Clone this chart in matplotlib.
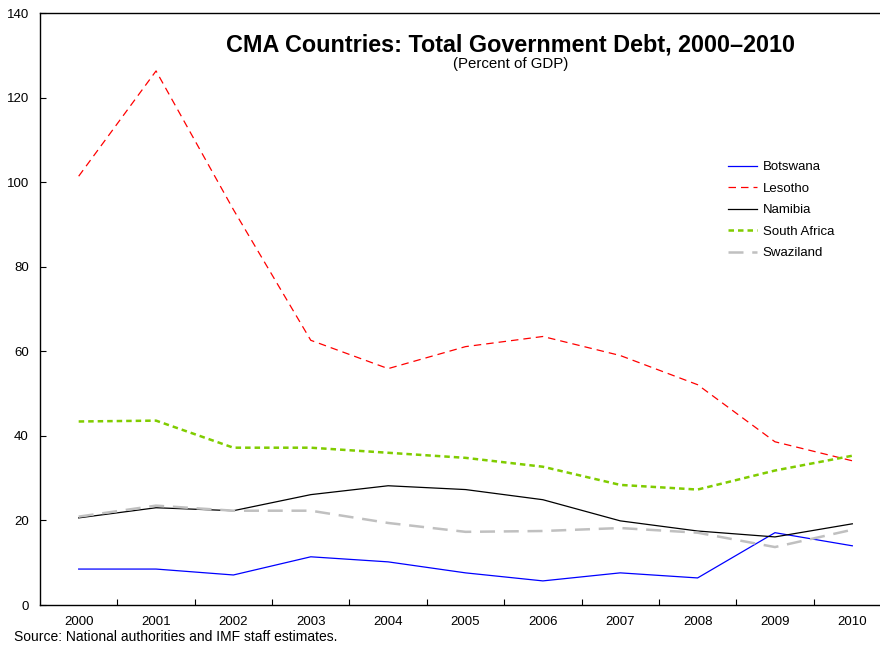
import matplotlib.pyplot as plt
import numpy as np

plt.rcParams['font.family'] = ['Liberation Sans', 'DejaVu Sans']

years = ['2000', '2001', '2002', '2003', '2004', '2005', '2006', '2007', '2008', '2009', '2010']
botswana = [8.5, 8.5, 7.1, 11.4, 10.2, 7.6, 5.7, 7.6, 6.4, 17.1, 14.0]
lesotho = [101.4, 126.3, 93.5, 62.6, 55.9, 61.1, 63.5, 59.0, 52.1, 38.6, 34.1]
namibia = [20.6, 23.0, 22.3, 26.1, 28.2, 27.3, 24.9, 19.9, 17.5, 16.1, 19.2]
south_africa = [43.4, 43.6, 37.2, 37.2, 36.0, 34.8, 32.7, 28.4, 27.3, 31.8, 35.3]
swaziland = [20.9, 23.5, 22.3, 22.3, 19.4, 17.3, 17.5, 18.2, 17.1, 13.7, 17.8]

x = np.arange(len(years))

fig = plt.figure(figsize=(8.8, 6.45), dpi=100)
ax = fig.add_axes([40 / 880, 40 / 645, 851 / 880, 592 / 645])

ax.plot(x, botswana, color='#0000FF', lw=0.9, label='Botswana')
ax.plot(x, lesotho, color='#FF0000', lw=0.9, dashes=(6, 4), label='Lesotho')
ax.plot(x, namibia, color='black', lw=0.9, label='Namibia')
ax.plot(x, south_africa, color='#80CC00', lw=1.8, dashes=(2.2, 1.6), label='South Africa')
ax.plot(x, swaziland, color='#C0C0C0', lw=1.8, dashes=(6, 3.5), label='Swaziland')

ax.set_xlim(-0.5, 10.5)
ax.set_ylim(0, 140)
ax.set_yticks(range(0, 141, 20))
ax.set_xticks(x)
ax.set_xticklabels(years)
ax.set_xticks(x[:-1] + 0.5, minor=True)
ax.tick_params(axis='x', which='major', length=0, pad=8, labelsize=9.5)
ax.tick_params(axis='x', which='minor', direction='in', length=4, width=0.8)
ax.tick_params(axis='y', direction='in', length=4, width=0.8, pad=8, labelsize=9.5)
for s in ax.spines.values():
    s.set_linewidth(1.0)

leg = ax.legend(loc='upper left', bbox_to_anchor=(0.794, 0.77), frameon=False,
                fontsize=9.5, handlelength=2.2, labelspacing=0.7, handletextpad=0.45)

fig.text(0.58, 0.931, 'CMA Countries: Total Government Debt, 2000\u20132010',
         ha='center', va='center', fontsize=16.8, fontweight='bold')
fig.text(0.58, 0.901, '(Percent of GDP)', ha='center', va='center', fontsize=10.8)
fig.text(14 / 880, 1 - 637 / 645, 'Source: National authorities and IMF staff estimates.',
         ha='left', va='center', fontsize=10)

fig.savefig('out.png', dpi=100)
